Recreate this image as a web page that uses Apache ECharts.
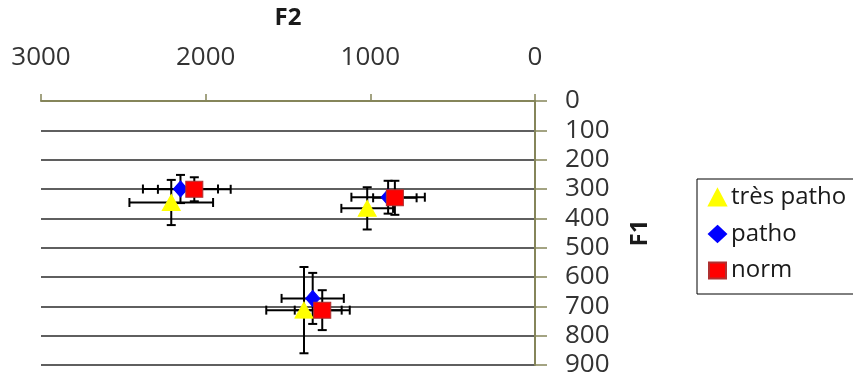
<!DOCTYPE html>
<html>
<head>
<meta charset="utf-8">
<script src="https://cdn.jsdelivr.net/npm/echarts@6/dist/echarts.min.js"></script>
<style>
html,body{margin:0;padding:0;background:#fff;}
#c{width:853px;height:381px;}
</style>
</head>
<body>
<div id="c"></div>
<script>
// ---- data ----
const seriesNames = ['très patho', 'patho', 'norm'];
const xTicks = [0, 1000, 2000, 3000];
const yTicks = [0, 100, 200, 300, 400, 500, 600, 700, 800, 900];

const tresPathoF2 = [2209, 1019, 1403];
const tresPathoF1 = [346, 366, 713];
const tresPathoF2Err = [254, 157, 229];
const tresPathoF1Err = [77, 72, 147];

const pathoF2 = [2153, 892, 1350];
const pathoF1 = [300, 328, 673];
const pathoF2Err = [228, 223, 189];
const pathoF1Err = [48, 56, 87];

const normF2 = [2069, 851, 1292];
const normF1 = [301, 330, 713];
const normF2Err = [221, 132, 167];
const normF1Err = [41, 58, 68];

// ---- build ----
const FONT = 'Open Sans';
const AXIS_COLOR = '#85855a';

function pts(xs, ys) { return xs.map((x, i) => [x, ys[i]]); }
function errs(xs, ys, ex, ey) { return xs.map((x, i) => [x, ys[i], ex[i], ey[i]]); }

const groups = [
  { name: seriesNames[0], symbol: 'triangle', size: [18, 16], color: '#FFFF00', border: '#FFFF00',
    data: pts(tresPathoF2, tresPathoF1), err: errs(tresPathoF2, tresPathoF1, tresPathoF2Err, tresPathoF1Err) },
  { name: seriesNames[1], symbol: 'diamond', size: [14, 16], color: '#0000FF', border: '#0000FF',
    data: pts(pathoF2, pathoF1), err: errs(pathoF2, pathoF1, pathoF2Err, pathoF1Err) },
  { name: seriesNames[2], symbol: 'rect', size: [17, 16], color: '#FF0000', border: '#b03030',
    data: pts(normF2, normF1), err: errs(normF2, normF1, normF2Err, normF1Err) }
];

function renderErr(params, api) {
  const x = api.value(0), y = api.value(1), ex = api.value(2), ey = api.value(3);
  const c = api.coord([x, y]);
  const l = api.coord([x - ex, y]), r = api.coord([x + ex, y]);
  const t = api.coord([x, y - ey]), b = api.coord([x, y + ey]);
  const cap = 4.5;
  const st = { stroke: '#000', lineWidth: 2 };
  const line = (x1, y1, x2, y2) => ({ type: 'line', shape: { x1, y1, x2, y2 }, style: st });
  return {
    type: 'group',
    children: [
      line(l[0], c[1], r[0], c[1]),
      line(l[0], c[1] - cap, l[0], c[1] + cap),
      line(r[0], c[1] - cap, r[0], c[1] + cap),
      line(c[0], t[1], c[0], b[1]),
      line(c[0] - cap, t[1], c[0] + cap, t[1]),
      line(c[0] - cap, b[1], c[0] + cap, b[1])
    ]
  };
}

const series = [];
groups.forEach(g => {
  series.push({
    type: 'custom', name: g.name + ' err', renderItem: renderErr,
    data: g.err, encode: { x: 0, y: 1 }, z: 2, silent: true
  });
});
groups.forEach(g => {
  series.push({
    type: 'scatter', name: g.name, symbol: g.symbol, symbolSize: g.size,
    data: g.data, z: 5,
    itemStyle: { color: g.color, borderColor: g.border, borderWidth: 1, opacity: 1 }
  });
});

const chart = echarts.init(document.getElementById('c'), null, { renderer: 'canvas' });
chart.setOption({
  animation: false,
  backgroundColor: '#fff',
  textStyle: { fontFamily: FONT },
  grid: { left: 41, right: 318, top: 101, bottom: 16 },
  xAxis: {
    type: 'value', position: 'top', inverse: true,
    min: xTicks[0], max: xTicks[xTicks.length - 1], interval: 1000,
    name: 'F2', nameLocation: 'middle', nameGap: 71,
    nameTextStyle: { fontFamily: FONT, fontSize: 24, fontWeight: 'bold', color: '#1a1a1a' },
    axisLine: { show: true, lineStyle: { color: AXIS_COLOR, width: 2 } },
    axisTick: { show: true, inside: false, length: 7, lineStyle: { color: AXIS_COLOR, width: 1.5 } },
    axisLabel: { fontFamily: FONT, fontSize: 26, color: '#333', margin: 30, formatter: v => String(v) },
    splitLine: { show: false }
  },
  yAxis: {
    type: 'value', position: 'right', inverse: true,
    min: yTicks[0], max: yTicks[yTicks.length - 1], interval: 100,
    name: 'F1', nameLocation: 'middle', nameGap: 93, nameRotate: 90,
    nameTextStyle: { fontFamily: FONT, fontSize: 24, fontWeight: 'bold', color: '#1a1a1a' },
    axisLine: { show: true, lineStyle: { color: AXIS_COLOR, width: 2 } },
    axisTick: { show: true, inside: false, length: 12, lineStyle: { color: AXIS_COLOR, width: 1.5 } },
    axisLabel: { fontFamily: FONT, fontSize: 26, color: '#333', margin: 30, align: 'left', formatter: v => String(v) },
    splitLine: { show: true, lineStyle: { color: '#5f5f5f', width: 2 } }
  },
  legend: {
    orient: 'vertical', left: 697, top: 179,
    data: groups.map(g => ({ name: g.name, icon: g.symbol })),
    itemWidth: 17, itemHeight: 16, itemGap: 12.5,
    padding: [6.5, 40, 11.5, 11],
    borderColor: '#000', borderWidth: 1,
    textStyle: { fontFamily: FONT, fontSize: 24, color: '#1a1a1a' }
  },
  series: series
});
</script>
</body>
</html>
